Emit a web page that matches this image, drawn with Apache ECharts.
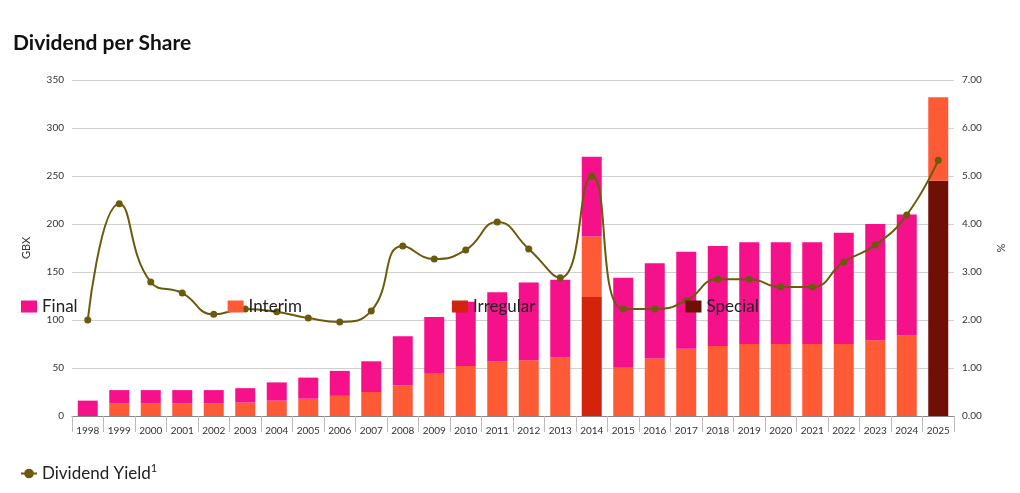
<!DOCTYPE html>
<html>
<head>
<meta charset="utf-8">
<script src="https://cdn.jsdelivr.net/npm/echarts@6/dist/echarts.min.js"></script>
<style>
  html, body { margin: 0; padding: 0; background: #fff; }
  #chart { width: 1020px; height: 493px; }
</style>
</head>
<body>
<div id="chart"></div>
<script>
var years = ['1998','1999','2000','2001','2002','2003','2004','2005','2006','2007','2008','2009','2010','2011','2012','2013','2014','2015','2016','2017','2018','2019','2020','2021','2022','2023','2024','2025'];
var irregular = ['-','-','-','-','-','-','-','-','-','-','-','-','-','-','-','-',124,'-','-','-','-','-','-','-','-','-','-','-'];
var special = ['-','-','-','-','-','-','-','-','-','-','-','-','-','-','-','-','-','-','-','-','-','-','-','-','-','-','-',245];
var interim = ['-',13,13,13,13,14,16,18,21,25,32,44,52,57,58,61,63,51,60,70,73,75,75,75,75,79,84,87];
var finalDiv = [16,14,14,14,14,15,19,22,26,32,51,59,67,72,81,81,83,93,99,101,104,106,106,106,116,121,126,'-'];
var yieldPct = [2.00,4.42,2.79,2.56,2.12,2.23,2.17,2.04,1.96,2.19,3.54,3.27,3.46,4.04,3.48,2.88,5.00,2.23,2.23,2.40,2.85,2.85,2.69,2.69,3.21,3.56,4.19,5.33];

var myChart = echarts.init(document.getElementById('chart'));

var option = {
  animation: false,
  textStyle: { fontFamily: 'Lato, "Noto Sans", sans-serif' },
  title: {
    text: 'Dividend per Share',
    left: 8, top: 28,
    textStyle: { fontSize: 21, fontWeight: 'bold', color: '#111' }
  },
  legend: {
    bottom: 6, left: 15, right: 40,
    itemGap: 150,
    itemWidth: 16, itemHeight: 12,
    textStyle: { fontSize: 17, color: '#222', rich: { sup: { fontSize: 11, verticalAlign: 'top', padding: [0,0,10,0] } } },
    formatter: function (n) { return n === 'Dividend Yield' ? n + '{sup|1}' : n; },
    data: [
      { name: 'Final', icon: 'rect' },
      { name: 'Interim', icon: 'rect' },
      { name: 'Irregular', icon: 'rect' },
      { name: 'Special', icon: 'rect' },
      { name: 'Dividend Yield' }
    ]
  },
  grid: { left: 72, right: 66, top: 80, bottom: 77 },
  xAxis: {
    type: 'category',
    data: years,
    axisLine: { lineStyle: { color: '#888' } },
    axisTick: { show: true, alignWithLabel: false, length: 16, lineStyle: { color: '#bbb' } },
    axisLabel: { color: '#333', fontSize: 10, margin: 10 }
  },
  yAxis: [
    {
      type: 'value', min: 0, max: 350, interval: 50,
      name: 'GBX', nameLocation: 'middle', nameGap: 40, nameRotate: 90,
      nameTextStyle: { fontSize: 11, color: '#333' },
      axisLabel: { color: '#333', fontSize: 10 },
      splitLine: { lineStyle: { color: '#d0d0d0' } }
    },
    {
      type: 'value', min: 0, max: 7, interval: 1,
      name: '%', nameLocation: 'middle', nameGap: 42, nameRotate: 90,
      nameTextStyle: { fontSize: 11, color: '#333' },
      axisLabel: { color: '#333', fontSize: 10, formatter: function (v) { return v.toFixed(2); } },
      splitLine: { show: false }
    }
  ],
  series: [
    { name: 'Irregular', type: 'bar', stack: 'd', barWidth: 20, data: irregular, itemStyle: { color: '#d2230c' } },
    { name: 'Special', type: 'bar', stack: 'd', barWidth: 20, data: special, itemStyle: { color: '#6e1006' } },
    { name: 'Interim', type: 'bar', stack: 'd', barWidth: 20, data: interim, itemStyle: { color: '#ff5a36' } },
    { name: 'Final', type: 'bar', stack: 'd', barWidth: 20, data: finalDiv, itemStyle: { color: '#f5118a' } },
    {
      name: 'Dividend Yield', type: 'line', yAxisIndex: 1, smooth: 0.5,
      data: yieldPct, symbol: 'circle', symbolSize: 7,
      lineStyle: { color: '#6b5a0c', width: 2 },
      itemStyle: { color: '#6b5a0c' }
    }
  ]
};

myChart.setOption(option);
</script>
</body>
</html>
